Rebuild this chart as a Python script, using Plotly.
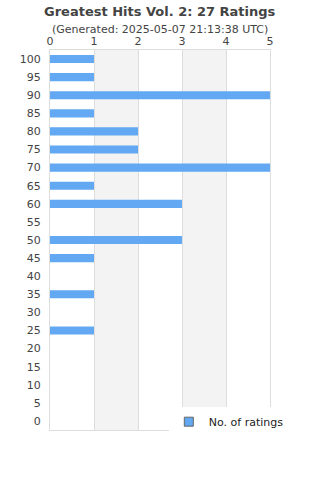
import plotly.graph_objects as go

categories = ["100", "95", "90", "85", "80", "75", "70", "65", "60", "55", "50",
              "45", "40", "35", "30", "25", "20", "15", "10", "5", "0"]
counts = [1, 1, 5, 1, 2, 2, 5, 1, 3, 0, 3, 1, 0, 1, 0, 1, 0, 0, 0, 0, 0]
x_ticks = [0, 1, 2, 3, 4, 5]
bands = [(1, 2), (3, 4)]
title_text = "Greatest Hits Vol. 2: 27 Ratings"
subtitle_text = "(Generated: 2025-05-07 21:13:38 UTC)"
series_name = "No. of ratings"

fig = go.Figure()
fig.add_trace(go.Bar(
    y=categories, x=counts, orientation="h", name=series_name,
    marker=dict(color="#62a8f2", line=dict(width=0)),
    showlegend=False,
))
fig.add_trace(go.Scatter(
    x=[None], y=[None], mode="markers", name=series_name,
    marker=dict(symbol="square", size=9, color="#62a8f2",
                line=dict(color="#666666", width=1)),
    showlegend=True,
))

for a, b in bands:
    fig.add_shape(type="rect", xref="x", yref="paper", x0=a, x1=b, y0=0, y1=1,
                  fillcolor="#f3f3f3", line=dict(width=0), layer="below")

fig.add_annotation(text="<b>" + title_text + "</b>", xref="paper", yref="paper",
                   x=0.5, y=1, yshift=39, showarrow=False, xanchor="center", yanchor="middle",
                   font=dict(size=13, color="#444444"))
fig.add_annotation(text=subtitle_text, xref="paper", yref="paper",
                   x=0.5, y=1, yshift=21, showarrow=False, xanchor="center", yanchor="middle",
                   font=dict(size=11, color="#444444"))

fig.update_layout(
    width=320, height=480,
    margin=dict(l=50, r=50, t=50, b=50),
    paper_bgcolor="white", plot_bgcolor="white",
    font=dict(family="DejaVu Sans", color="#444444", size=11),
    bargap=0.55,
    xaxis=dict(
        side="top", range=[0, 5], tickvals=x_ticks, ticktext=[str(v) for v in x_ticks],
        showgrid=True, gridcolor="#dddddd", gridwidth=1, zeroline=False,
        showline=True, linecolor="#dddddd", mirror=True, ticks="", ticklen=0,
        tickfont=dict(size=11, color="#444444"),
    ),
    yaxis=dict(
        type="category", categoryorder="array", categoryarray=categories[::-1],
        showgrid=False, showline=True, linecolor="#dddddd", mirror=True,
        ticks="outside", ticklen=6, tickcolor="white",
        tickfont=dict(size=11, color="#444444"),
    ),
    legend=dict(
        x=0.54, xanchor="left", y=0.06, yanchor="top",
        bgcolor="white", font=dict(size=11, color="#222222"),
    ),
)

fig.write_html("out.html")
